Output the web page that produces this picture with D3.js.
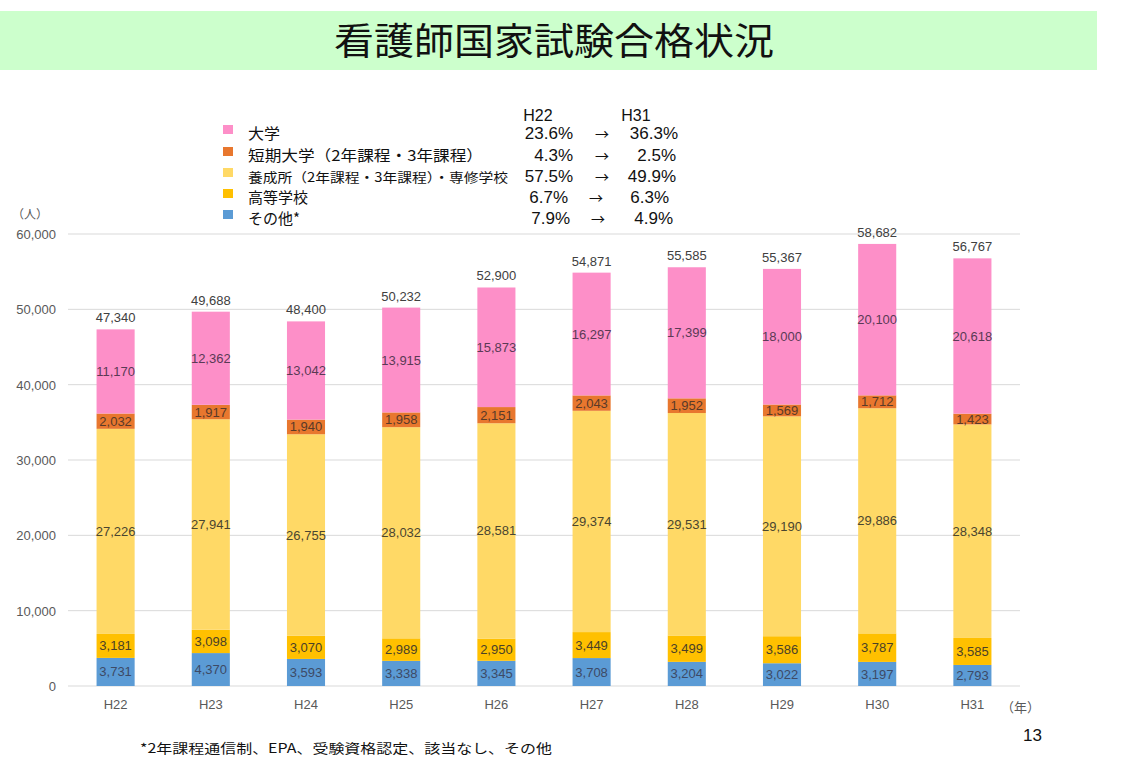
<!DOCTYPE html>
<html><head><meta charset="utf-8">
<script src="https://cdn.jsdelivr.net/npm/d3@7"></script>
<style>
body{margin:0;background:#fff;}
svg{display:block;}
</style></head>
<body>
<svg id="c" width="1133" height="783"></svg>
<script>
const categories = ["H22","H23","H24","H25","H26","H27","H28","H29","H30","H31"];
const seriesNames = ["その他*","高等学校","養成所（2年課程・3年課程）・専修学校","短期大学（2年課程・3年課程）","大学"];
const other      = [3731,4370,3593,3338,3345,3708,3204,3022,3197,2793];
const highSchool = [3181,3098,3070,2989,2950,3449,3499,3586,3787,3585];
const training   = [27226,27941,26755,28032,28581,29374,29531,29190,29886,28348];
const junior     = [2032,1917,1940,1958,2151,2043,1952,1569,1712,1423];
const university = [11170,12362,13042,13915,15873,16297,17399,18000,20100,20618];
const totals     = [47340,49688,48400,50232,52900,54871,55585,55367,58682,56767];
const yTicks = [0,10000,20000,30000,40000,50000,60000];
const pctH22 = ["23.6%","4.3%","57.5%","6.7%","7.9%"];
const pctH31 = ["36.3%","2.5%","49.9%","6.3%","4.9%"];
const legendOrder = ["大学","短期大学（2年課程・3年課程）","養成所（2年課程・3年課程）・専修学校","高等学校","その他*"];
const colors = ["#5b9bd5","#ffc000","#ffd966","#e8772e","#fd8fc8"];
const legendColors = ["#fd8fc8","#e8772e","#ffd966","#ffc000","#5b9bd5"];

const svg = d3.select("#c");
const font = "'Liberation Sans', Arial, sans-serif";
const jfont = "'Noto Sans CJK JP', 'Liberation Sans', sans-serif";

// title banner
svg.append("rect").attr("x",0).attr("y",11).attr("width",1097).attr("height",59).attr("fill","#ccffcc");
svg.append("text").attr("x",554).attr("y",55).attr("text-anchor","middle")
  .attr("font-family",jfont).attr("font-size",37).attr("fill","#111")
  .attr("textLength",440).attr("lengthAdjust","spacingAndGlyphs")
  .text("看護師国家試験合格状況");

const x = d3.scaleBand().domain(categories).range([68,1020]).paddingInner(0.6).paddingOuter(0.3);
const y = d3.scaleLinear().domain([0,60000]).range([686,234]);

// gridlines
svg.append("g").selectAll("line").data(yTicks).join("line")
  .attr("x1",68).attr("x2",1020).attr("y1",d=>y(d)).attr("y2",d=>y(d))
  .attr("stroke","#d9d9d9").attr("stroke-width",1);

// y axis
const yAxis = svg.append("g").attr("transform","translate(59,0)")
  .call(d3.axisLeft(y).tickValues(yTicks).tickSize(0).tickFormat(d3.format(",")));
yAxis.select(".domain").remove();
yAxis.selectAll("text").attr("font-family",font).attr("font-size",13).attr("fill","#595959").attr("dy","0.35em");

// x axis
const xAxis = svg.append("g").attr("transform","translate(0,697)")
  .call(d3.axisBottom(x).tickSize(0));
xAxis.select(".domain").remove();
xAxis.selectAll("text").attr("font-family",font).attr("font-size",13).attr("fill","#595959");

svg.append("text").attr("x",1001).attr("y",712).attr("font-family",jfont).attr("font-size",13).attr("fill","#595959").text("（年）");
svg.append("text").attr("x",12).attr("y",219).attr("font-family",jfont).attr("font-size",12).attr("fill","#595959").text("（人）");

// stacked data
const rows = categories.map((c,i)=>({cat:c, s0:other[i], s1:highSchool[i], s2:training[i], s3:junior[i], s4:university[i]}));
const keys = ["s0","s1","s2","s3","s4"];
const stack = d3.stack().keys(keys)(rows);

const layers = svg.append("g").selectAll("g").data(stack).join("g").attr("fill",(d,i)=>colors[i]);
layers.selectAll("rect").data(d=>d).join("rect")
  .attr("x",d=>x(d.data.cat)).attr("width",x.bandwidth())
  .attr("y",d=>y(d[1])).attr("height",d=>y(d[0])-y(d[1]));

const labelColors = ["#3d4a66","#4a4028","#4a4530","#5a3a28","#5a3a55"];
svg.append("g").selectAll("g").data(stack).join("g").each(function(layer,li){
  d3.select(this).selectAll("text").data(layer).join("text")
    .attr("x",d=>x(d.data.cat)+x.bandwidth()/2)
    .attr("y",d=>(y(d[0])+y(d[1]))/2)
    .attr("dy","0.35em").attr("text-anchor","middle")
    .attr("font-family",font).attr("font-size",13).attr("fill",labelColors[li])
    .text(d=>d3.format(",")(d[1]-d[0]));
});

// totals
svg.append("g").selectAll("text").data(categories).join("text")
  .attr("x",d=>x(d)+x.bandwidth()/2)
  .attr("y",(d,i)=>y(totals[i])-7)
  .attr("text-anchor","middle").attr("font-family",font).attr("font-size",13).attr("fill","#404040")
  .text((d,i)=>d3.format(",")(totals[i]));

// legend
const ly = [133,155,176,197,218];
const nameLen = [32,235,260,null,null];
const lg = svg.append("g");
lg.selectAll("rect").data(legendOrder).join("rect")
  .attr("x",223).attr("y",(d,i)=>ly[i]-8).attr("width",10).attr("height",9)
  .attr("fill",(d,i)=>legendColors[i]);
lg.selectAll("text.name").data(legendOrder).join("text").attr("class","name")
  .attr("x",248).attr("y",(d,i)=>ly[i]+6)
  .attr("font-family",jfont).attr("font-size",(d,i)=>i===2?13:15).attr("fill","#111")
  .each(function(d,i){ if(nameLen[i]) d3.select(this).attr("textLength",nameLen[i]).attr("lengthAdjust","spacingAndGlyphs"); })
  .text(d=>d);
lg.append("text").attr("x",538).attr("y",121).attr("text-anchor","middle").attr("font-family",font).attr("font-size",16).attr("fill","#111").text("H22");
lg.append("text").attr("x",636).attr("y",121).attr("text-anchor","middle").attr("font-family",font).attr("font-size",16).attr("fill","#111").text("H31");
lg.selectAll("text.p22").data(pctH22).join("text").attr("class","p22")
  .attr("x",(d,i)=>[573,573,573,568,570][i]).attr("y",(d,i)=>ly[i]+6).attr("text-anchor","end")
  .attr("font-family",font).attr("font-size",17).attr("fill","#111").text(d=>d);
lg.selectAll("text.arr").data(pctH22).join("text").attr("class","arr")
  .attr("x",(d,i)=>[602,602,602,596,598][i]).attr("y",(d,i)=>ly[i]+6).attr("text-anchor","middle")
  .attr("font-family",jfont).attr("font-size",14).attr("fill","#111").text("→");
lg.selectAll("text.p31").data(pctH31).join("text").attr("class","p31")
  .attr("x",(d,i)=>[678,676,676,669,673][i]).attr("y",(d,i)=>ly[i]+6).attr("text-anchor","end")
  .attr("font-family",font).attr("font-size",17).attr("fill","#111").text(d=>d);

// footnote
svg.append("text").attr("x",140).attr("y",753).attr("font-family",jfont).attr("font-size",13).attr("fill","#111")
  .attr("textLength",412).attr("lengthAdjust","spacingAndGlyphs")
  .text("*2年課程通信制、EPA、受験資格認定、該当なし、その他");
svg.append("text").attr("x",1042).attr("y",741).attr("text-anchor","end").attr("font-family",font).attr("font-size",17).attr("fill","#111").text("13");
</script>
</body></html>
